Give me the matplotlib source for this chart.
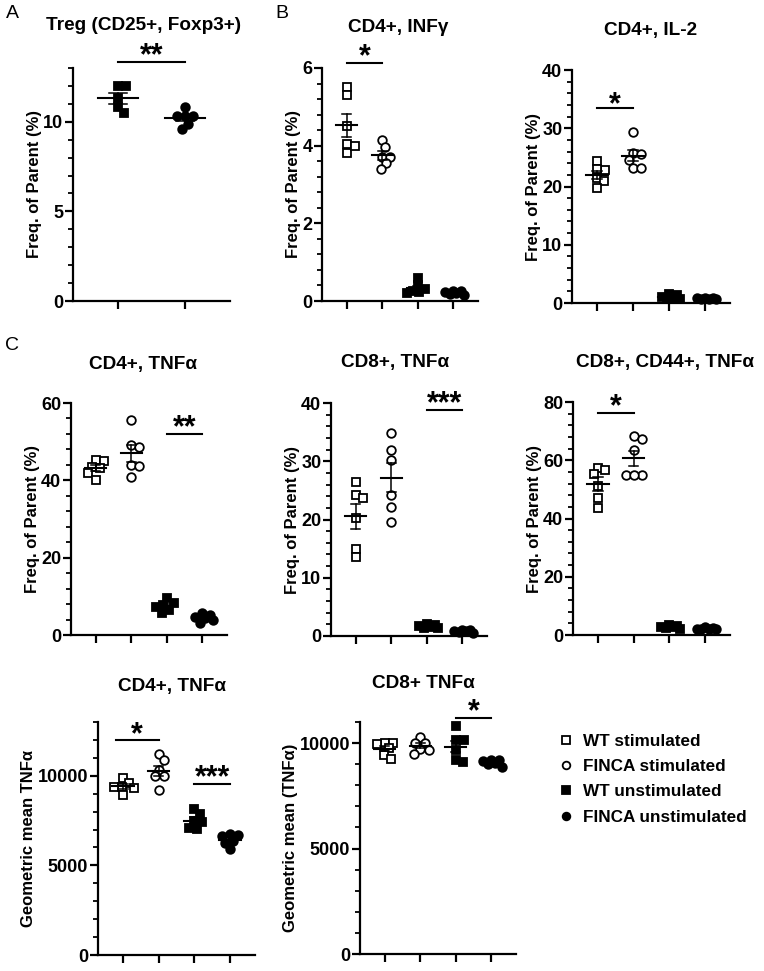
import numpy as np
import matplotlib.pyplot as plt
from matplotlib.lines import Line2D
from matplotlib.ticker import MultipleLocator

plt.rcParams['font.family'] = ['Liberation Sans', 'DejaVu Sans']
plt.rcParams['font.weight'] = 'bold'
plt.rcParams['axes.labelweight'] = 'bold'

FIG_W, FIG_H = 764, 971

groups = ["WT stimulated", "FINCA stimulated", "WT unstimulated", "FINCA unstimulated"]

# --- values, one list per group ---
treg = [[12.0, 12.0, 11.3, 10.8, 10.5],
        [10.8, 10.3, 10.3, 10.3, 9.9, 9.6]]

cd4_infg = [[5.5, 5.3, 4.5, 4.05, 3.8, 4.0],
            [4.15, 3.97, 3.72, 3.72, 3.55, 3.4],
            [0.6, 0.4, 0.3, 0.25, 0.22, 0.2],
            [0.27, 0.25, 0.22, 0.2, 0.18, 0.16]]

cd4_il2 = [[24.3, 22.9, 23.0, 21.5, 20.9, 19.7],
           [29.4, 25.7, 25.6, 24.6, 23.1, 23.1],
           [1.6, 1.3, 1.1, 0.9, 0.8, 0.7],
           [0.9, 0.85, 0.8, 0.75, 0.7, 0.7]]

cd4_tnfa = [[45.2, 45.0, 43.5, 43.1, 41.8, 40.2],
            [55.6, 49.1, 48.7, 44.0, 43.7, 40.8],
            [9.5, 8.4, 7.8, 7.3, 6.5, 5.6],
            [5.6, 5.2, 4.7, 4.3, 3.9, 3.2]]

cd8_tnfa = [[26.5, 24.2, 23.7, 20.2, 14.9, 13.6],
            [34.9, 32.0, 30.2, 24.2, 22.2, 19.6],
            [2.1, 1.9, 1.7, 1.6, 1.4, 1.3],
            [1.1, 1.0, 0.9, 0.8, 0.7, 0.6]]

cd8_cd44_tnfa = [[57.5, 56.5, 55.3, 51.0, 47.0, 43.5],
                 [68.2, 67.4, 63.4, 54.9, 54.9, 54.9],
                 [3.6, 3.2, 2.9, 2.6, 2.4, 2.2],
                 [2.6, 2.4, 2.2, 2.1, 2.0, 1.9]]

cd4_tnfa_gm = [[9900, 9600, 9400, 9350, 9300, 8950],
               [11230, 10890, 10330, 10000, 9960, 9220],
               [8150, 7850, 7450, 7400, 7100, 7050],
               [6750, 6700, 6650, 6350, 6250, 5900]]

cd8_tnfa_gm = [[10000, 9950, 10000, 9750, 9450, 9250],
               [10290, 10000, 10000, 9720, 9680, 9490],
               [10790, 10130, 10130, 9680, 9210, 9080],
               [9200, 9200, 9150, 9050, 9000, 8850]]

# (marker, filled) per group
styles = [("s", False), ("o", False), ("s", True), ("o", True)]

fig = plt.figure(figsize=(FIG_W / 100, FIG_H / 100), dpi=100)


def make_ax(left, top, right, bottom):
    return fig.add_axes([left / FIG_W, 1 - bottom / FIG_H,
                         (right - left) / FIG_W, (bottom - top) / FIG_H])


def swarm(vals, px_per_val, diam=7.5, max_dx=11):
    # small beeswarm in pixel space; points may overlap once max_dx is hit
    vals = np.asarray(vals, float)
    order = np.argsort(vals)[::-1]
    placed = []
    offs = np.zeros(len(vals))
    cands = [0]
    for d in range(1, max_dx + 1):
        cands += [d, -d]
    for i in order:
        y = vals[i] * px_per_val
        best, best_gap = 0, -1
        for dx in cands:
            gap = min([np.hypot(dx - px, y - py) for px, py in placed] or [99])
            if gap >= diam:
                best = dx
                break
            if gap > best_gap + 0.5:
                best, best_gap = dx, gap
        placed.append((best, y))
        offs[i] = best
    return offs


def panel(box, data, ymax, major, minor, ylabel, styl, xlim):
    left, top, right, bottom = box
    ax = make_ax(*box)
    ax.set_xlim(*xlim)
    ax.set_ylim(0, ymax)
    px_per_val = (bottom - top) / ymax
    px_per_x = (right - left) / (xlim[1] - xlim[0])
    pos = np.arange(1, len(data) + 1)
    for p, vals, (mk, filled) in zip(pos, data, styl):
        offs = swarm(vals, px_per_val) / px_per_x
        ax.plot(p + offs, vals, ls="none", marker=mk, ms=6.2,
                mec="black", mew=1.3,
                mfc="black" if filled else "white", clip_on=False, zorder=3)
        m = np.mean(vals)
        sem = np.std(vals, ddof=1) / np.sqrt(len(vals))
        ax.plot([p - 0.3, p + 0.3], [m, m], color="black", lw=1.5, zorder=4)
        ax.plot([p, p], [m - sem, m + sem], color="black", lw=1.1, zorder=4)
        for yy in (m - sem, m + sem):
            ax.plot([p - 0.13, p + 0.13], [yy, yy], color="black", lw=1.1, zorder=4)
    for s in ("top", "right"):
        ax.spines[s].set_visible(False)
    for s in ("left", "bottom"):
        ax.spines[s].set_linewidth(1.6)
    ax.set_yticks(np.arange(0, ymax + 1e-9, major))
    ax.yaxis.set_minor_locator(MultipleLocator(minor))
    ax.tick_params(axis="y", which="major", length=6, width=1.6, labelsize=13, pad=1)
    ax.tick_params(axis="y", which="minor", length=3.5, width=1.3)
    ax.set_xticks(pos)
    ax.set_xticklabels([])
    ax.tick_params(axis="x", which="major", length=6, width=1.6)
    ax.set_ylabel(ylabel, fontsize=12, labelpad=1)
    for lab in ax.get_yticklabels():
        lab.set_fontweight("bold")
    return ax


def sig(ax, x1, x2, y, text, ystar, size=22):
    # bar at y, asterisks centred on ystar (the glyph sits ~0.58 em above baseline)
    ax.plot([x1, x2], [y, y], color="black", lw=1.5, clip_on=False)
    ax.annotate(text, xy=((x1 + x2) / 2, ystar), xytext=(0, -0.58 * size),
                textcoords="offset points", ha="center", va="baseline",
                fontsize=size, fontweight="bold", annotation_clip=False)


freq = "Freq. of Parent (%)"
X4 = (0.3, 4.7)

axA = panel((73, 68, 230, 301), treg, 13, 5, 1, freq,
            [("s", True), ("o", True)], (0.33, 2.67))
sig(axA, 1, 2, 13.35, "**", 14.2)

axB1 = panel((322, 68, 478, 301), cd4_infg, 6, 2, 0.4, freq, styles, X4)
sig(axB1, 1, 2, 6.13, "*", 6.52)

axB2 = panel((572, 70, 730, 303), cd4_il2, 40, 10, 2, freq, styles, X4)
sig(axB2, 1, 2, 33.5, "*", 35.7)

axC1 = panel((71, 403, 227, 635), cd4_tnfa, 60, 20, 4, freq, styles, X4)
sig(axC1, 3, 4, 52.0, "**", 55.9)

axC2 = panel((331, 403, 487, 636), cd8_tnfa, 40, 10, 2, freq, styles, X4)
sig(axC2, 3, 4, 38.8, "***", 41.4)

axC3 = panel((573, 402, 730, 635), cd8_cd44_tnfa, 80, 20, 4, freq, styles, X4)
sig(axC3, 1, 2, 76.2, "*", 81.4)

axD1 = panel((98, 722, 255, 955), cd4_tnfa_gm, 13000, 5000, 1000,
             "Geometric mean TNFα", styles, X4)
sig(axD1, 0.8, 2.0, 12000, "*", 12780)
sig(axD1, 3, 4, 9540, "***", 10380)

axD2 = panel((360, 722, 516, 954), cd8_tnfa_gm, 11000, 5000, 1000,
             "Geometric mean (TNFα)", styles, X4)
sig(axD2, 3, 4, 11190, "*", 11900)

# titles and panel letters (figure pixel coordinates)
titles = [("Treg (CD25+, Foxp3+)", 144, 25),
          ("CD4+, INFγ", 398, 27),
          ("CD4+, IL-2", 651, 30),
          ("CD4+, TNFα", 143, 365),
          ("CD8+, TNFα", 395, 362),
          ("CD8+, CD44+, TNFα", 665, 362),
          ("CD4+, TNFα", 172, 686),
          ("CD8+ TNFα", 423, 683)]
for t, x, y in titles:
    fig.text(x / FIG_W, 1 - y / FIG_H, t, ha="center", va="center",
             fontsize=13.7, fontweight="bold")

for t, x, y in [("A", 12, 14), ("B", 282, 13), ("C", 12, 346)]:
    fig.text(x / FIG_W, 1 - y / FIG_H, t, ha="center", va="center",
             fontsize=14, fontweight="normal")

handles = [Line2D([], [], ls="none", marker=mk, ms=5.5, mec="black", mew=1.3,
                  mfc="black" if filled else "white") for mk, filled in styles]
fig.legend(handles, groups, loc="upper left", frameon=False,
           bbox_to_anchor=(552 / FIG_W, 1 - 727 / FIG_H),
           prop={"size": 12.3, "weight": "bold"}, handlelength=0.8,
           handletextpad=0.6, labelspacing=0.6, borderaxespad=0)

fig.savefig("out.png", dpi=100)
